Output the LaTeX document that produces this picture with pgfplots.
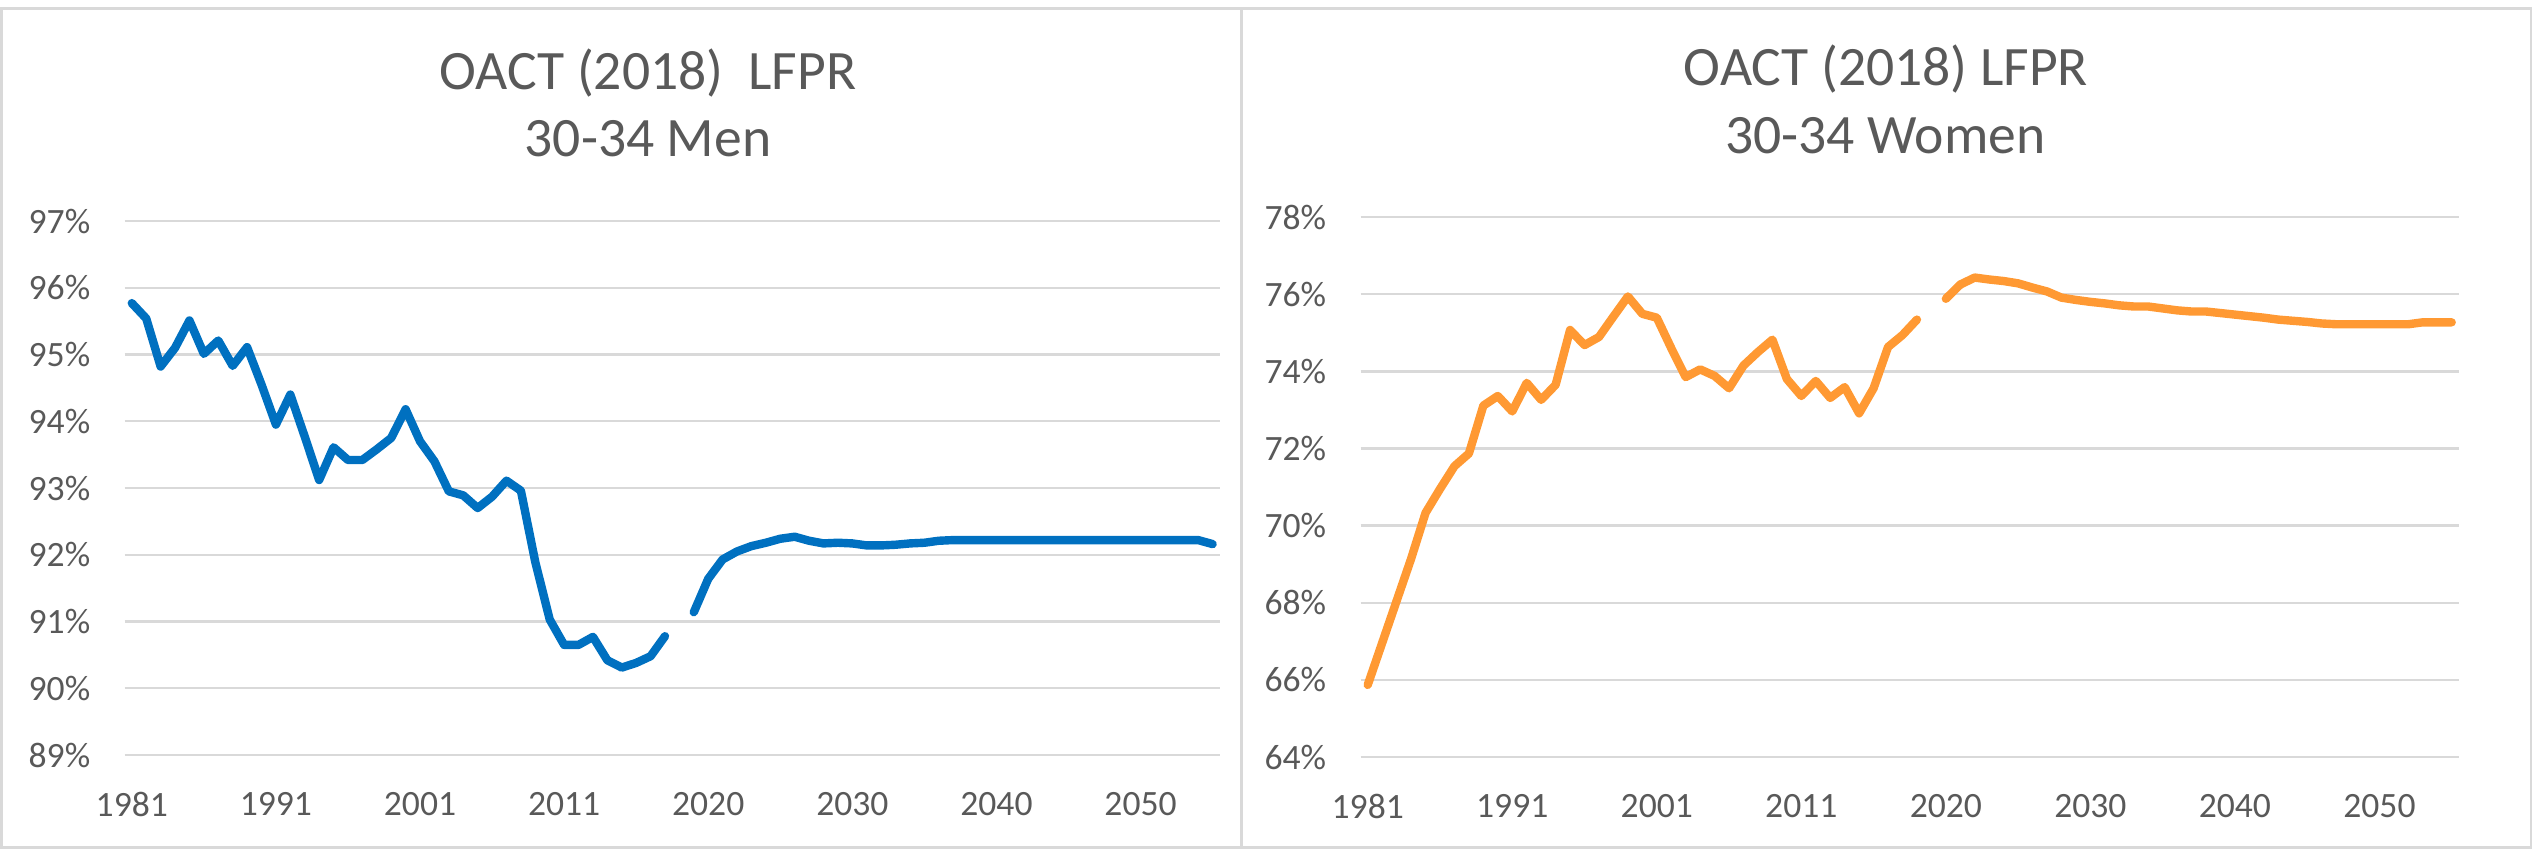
\documentclass[border=0pt]{standalone}
\usepackage{fontspec}
\setmainfont{Carlito}
\usepackage{pgfplots}
\pgfplotsset{compat=1.18}

\definecolor{menblue}{HTML}{0070C0}
\definecolor{womenorange}{HTML}{FF9933}
\definecolor{gridgray}{HTML}{D9D9D9}
\definecolor{textgray}{HTML}{595959}

% men, historical (category index 0 = 1981)
\pgfplotstableread{
i v
0 95.77
1 95.54
2 94.82
3 95.10
4 95.51
5 95.01
6 95.21
7 94.83
8 95.11
9 94.55
10 93.95
11 94.40
12 93.77
13 93.12
14 93.61
15 93.42
16 93.42
17 93.58
18 93.75
19 94.18
20 93.70
21 93.40
22 92.95
23 92.89
24 92.70
25 92.87
26 93.11
27 92.96
28 91.89
29 91.03
30 90.65
31 90.65
32 90.77
33 90.42
34 90.31
35 90.38
36 90.48
37 90.78
}\menhist

% men, projection
\pgfplotstableread{
i v
39 91.14
40 91.64
41 91.93
42 92.05
43 92.13
44 92.18
45 92.24
46 92.27
47 92.21
48 92.17
49 92.18
50 92.17
51 92.14
52 92.14
53 92.15
54 92.17
55 92.18
56 92.21
57 92.22
58 92.22
59 92.22
60 92.22
61 92.22
62 92.22
63 92.22
64 92.22
65 92.22
66 92.22
67 92.22
68 92.22
69 92.22
70 92.22
71 92.22
72 92.22
73 92.22
74 92.22
75 92.16
}\menproj

% women, historical
\pgfplotstableread{
i v
0 65.87
1 66.96
2 68.05
3 69.14
4 70.33
5 70.95
6 71.54
7 71.87
8 73.11
9 73.36
10 72.96
11 73.70
12 73.26
13 73.65
14 75.07
15 74.68
16 74.89
17 75.42
18 75.94
19 75.49
20 75.39
21 74.60
22 73.85
23 74.05
24 73.88
25 73.56
26 74.15
27 74.50
28 74.82
29 73.80
30 73.36
31 73.75
32 73.31
33 73.59
34 72.91
35 73.56
36 74.63
37 74.94
38 75.34
}\womenhist

% women, projection
\pgfplotstableread{
i v
40 75.88
41 76.25
42 76.43
43 76.38
44 76.34
45 76.28
46 76.17
47 76.07
48 75.91
49 75.85
50 75.80
51 75.76
52 75.71
53 75.68
54 75.68
55 75.63
56 75.58
57 75.55
58 75.55
59 75.51
60 75.47
61 75.43
62 75.39
63 75.34
64 75.31
65 75.28
66 75.24
67 75.22
68 75.22
69 75.22
70 75.22
71 75.22
72 75.22
73 75.27
74 75.27
75 75.27
}\womenproj

\pgfplotsset{
  lfpr/.style={
    scale only axis,
    anchor=south west,
    xmin=-0.5, xmax=75.5,
    xtick={0,10,20,30,40,50,60,70},
    xticklabels={1981,1991,2001,2011,2020,2030,2040,2050},
    axis line style={draw=none},
    major tick length=0pt,
    ymajorgrids,
    major grid style={gridgray, line width=0.6pt},
    tick label style={font=\fontsize{8.9}{10}\selectfont, text=textgray},
    xticklabel style={anchor=north, inner sep=0pt, yshift=-9.2pt},
    yticklabel style={anchor=east, inner sep=0pt, xshift=-8.4pt},
    clip=false,
  },
  lfprline/.style={line width=2.1pt, line join=round, line cap=round, no markers},
}

\begin{document}
\begin{tikzpicture}
\path[use as bounding box] (0,0) rectangle (633.5pt,212.5pt);
\draw[gridgray, line width=0.65pt] (0.425pt,0.625pt) rectangle (310.4pt,210.375pt);
\draw[gridgray, line width=0.65pt] (310.4pt,0.625pt) rectangle (632.75pt,210.375pt);

\node[anchor=base, text=textgray, font=\fontsize{13.9}{16}\selectfont] at (162pt,190.2pt) {OACT (2018)~ LFPR};
\node[anchor=base, text=textgray, font=\fontsize{13.9}{16}\selectfont] at (162pt,173.3pt) {30-34 Men};
\node[anchor=base, text=textgray, font=\fontsize{13.9}{16}\selectfont] at (471.5pt,191.1pt) {OACT (2018) LFPR};
\node[anchor=base, text=textgray, font=\fontsize{13.9}{16}\selectfont] at (471.3pt,174.2pt) {30-34 Women};

\begin{axis}[lfpr,
  at={(31.15pt,23.75pt)}, width=273.8pt, height=133.5pt,
  ymin=89, ymax=97, ytick={89,90,91,92,93,94,95,96,97},
  yticklabels={89\%,90\%,91\%,92\%,93\%,94\%,95\%,96\%,97\%},
]
\addplot[lfprline, menblue] table[x=i, y=v] {\menhist};
\addplot[lfprline, menblue] table[x=i, y=v] {\menproj};
\end{axis}

\begin{axis}[lfpr,
  at={(340.125pt,23.25pt)}, width=274.6pt, height=135pt,
  ymin=64, ymax=78, ytick={64,66,68,70,72,74,76,78},
  yticklabels={64\%,66\%,68\%,70\%,72\%,74\%,76\%,78\%},
]
\addplot[lfprline, womenorange] table[x=i, y=v] {\womenhist};
\addplot[lfprline, womenorange] table[x=i, y=v] {\womenproj};
\end{axis}
\end{tikzpicture}
\end{document}
